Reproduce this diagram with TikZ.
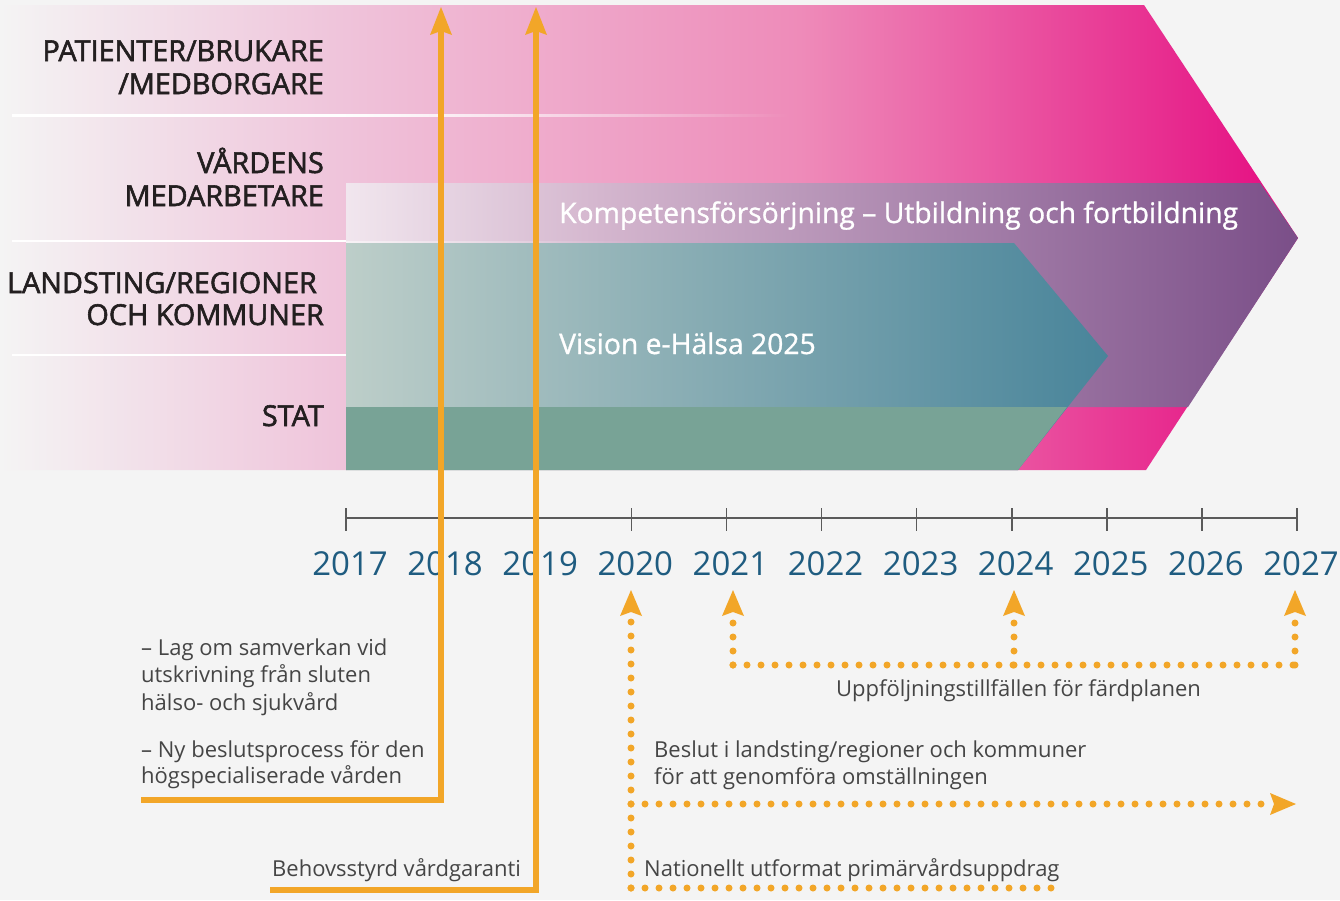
\documentclass[tikz,border=0pt]{standalone}
\usepackage{fontspec}
\setmainfont{Open Sans}
\newfontfamily\semib[FakeBold=2]{Open Sans}
\newfontfamily\medf[FakeBold=1]{Open Sans}
\usetikzlibrary{arrows.meta,fadings}
\definecolor{bgc}{HTML}{F4F4F4}
\definecolor{pkB}{HTML}{EFC3DA}
\definecolor{pkC}{HTML}{EE8BB9}
\definecolor{pkD}{HTML}{E50A80}
\definecolor{puA}{HTML}{F1E6EE}
\definecolor{puB}{HTML}{D4B6CE}
\definecolor{puC}{HTML}{7A4E88}
\definecolor{tlA}{HTML}{BDCEC9}
\definecolor{tlB}{HTML}{48849A}
\definecolor{grn}{HTML}{78A396}
\definecolor{orng}{HTML}{F2A628}
\definecolor{yr}{HTML}{1F5C80}
\definecolor{lbl}{HTML}{231F20}
\definecolor{txt}{HTML}{454545}
\definecolor{axisc}{HTML}{5A5A5A}
\tikzset{
  lane/.style={anchor=base east, inner sep=0pt, text=lbl, font=\semib\fontsize{28.8}{33}\selectfont},
  band/.style={anchor=base west, inner sep=0pt, text=white, font=\medf\fontsize{28.3}{30}\selectfont},
  yearlbl/.style={anchor=base, inner sep=0pt, text=yr, font=\fontsize{33}{40}\selectfont},
  note/.style={anchor=base west, inner sep=0pt, text=txt, font=\fontsize{22}{27}\selectfont},
  solidarrow/.style={draw=orng, line width=6pt, line join=miter, -{Stealth[length=28pt,width=22pt,inset=4pt,line width=0pt]}},
  dotline/.style={draw=orng, line width=7pt, line cap=round, dash pattern=on 0pt off 14pt},
  dotarrow/.style={dotline, -{Stealth[length=26pt,width=22pt,inset=4pt,line width=0pt]}},
}
\begin{document}
\begin{tikzpicture}[x=1pt,y=-1pt]
\fill[bgc] (0,0) rectangle (1340,900);
\useasboundingbox (0,0) rectangle (1340,900);

% big pink chevron
\begin{scope}
\clip (0,5) -- (1144,5) -- (1298,238) -- (1146,470) -- (0,470) -- cycle;
\shade[left color=bgc, right color=pkB] (0,0) rectangle (346.5,480);
\shade[left color=pkB, right color=pkC] (346,0) rectangle (800.5,480);
\shade[left color=pkC, right color=pkD] (800,0) rectangle (1300,480);
\end{scope}

% purple chevron
\begin{scope}
\clip (346,183) -- (1260,183) -- (1298,238) -- (1188,407) -- (346,407) -- cycle;
\shade[left color=puA, right color=puB] (346,180) rectangle (600.5,410);
\shade[left color=puB, right color=puC] (600,180) rectangle (1300,410);
\end{scope}

% teal chevron
\begin{scope}
\clip (346,243) -- (1014,243) -- (1108,356) -- (1018,470) -- (346,470) -- cycle;
\shade[left color=tlA, right color=tlB] (346,240) rectangle (1110,472);
\end{scope}

% green band
\fill[grn] (346,407) -- (1067,407) -- (1018,470) -- (346,470) -- cycle;

% white separators
\fill[white] (12,114) rectangle (346,116.5);
\fill[white, path fading=east] (346,114) rectangle (790,116.5);
\fill[white] (12,239.5) rectangle (346,242);
\fill[white, opacity=0.5, path fading=east] (346,240.5) rectangle (650,242.5);
\fill[white] (12,353.5) rectangle (346,356);

% lane labels
\node[lane] (l1a) at (324,61) {PATIENTER/BRUKARE};
\node[lane] (l1b) at (324,94) {/MEDBORGARE};
\node[lane] (l2a) at (324,173) {VÅRDENS};
\node[lane] (l2b) at (324,206) {MEDARBETARE};
\node[lane] (l3a) at (317,293) {LANDSTING/REGIONER};
\node[lane] (l3b) at (324,325) {OCH KOMMUNER};
\node[lane] (l4) at (324,426) {STAT};

% band labels
\node[band] (komp) at (559,223) {Kompetensförsörjning – Utbildning och fortbildning};
\node[band] (vis) at (559,354) {Vision e-Hälsa 2025};

% timeline
\coordinate (ax0) at (346,518);
\coordinate (ax1) at (1297,518);
\draw[axisc, line width=1.8pt] (ax0) -- (ax1);
\foreach \i [evaluate=\i as \xx using 346+95.1*\i, evaluate=\i as \yy using int(2017+\i)] in {0,...,10} {
  \draw[axisc, line width=1.6pt] (\xx,508) -- (\xx,531);
  \node[yearlbl] (y\yy) at (\xx+4,575) {\yy};
}

% solid orange arrows
\coordinate (a1s) at (141,800);
\coordinate (a1c) at (441,800);
\coordinate (a1t) at (441,7);
\coordinate (a2s) at (270,890);
\coordinate (a2c) at (536,890);
\coordinate (a2t) at (536,7);
\draw[solidarrow] (a1s) -- (a1c) -- (a1t);
\draw[solidarrow] (a2s) -- (a2c) -- (a2t);

% dotted orange arrows
\coordinate (d0b) at (631,888);
\coordinate (d0e) at (1065,888);
\coordinate (d0t) at (631,590);
\coordinate (dhs) at (631,804);
\coordinate (dht) at (1296,804);
\coordinate (fA) at (733,665);
\coordinate (fB) at (1014,665);
\coordinate (fC) at (1295,665);
\coordinate (tA) at (733,590);
\coordinate (tB) at (1014,590);
\coordinate (tC) at (1295,590);
\draw[dotline] (d0b) -- (d0e);
\draw[dotarrow] (d0b) -- (d0t);
\draw[dotarrow] (dhs) -- (dht);
\draw[dotline] (fA) -- (fC);
\draw[dotarrow] (fA) -- (tA);
\draw[dotarrow] (fB) -- (tB);
\draw[dotarrow] (fC) -- (tC);

% notes
\node[note] (n1) at (141,655) {– Lag om samverkan vid};
\node[note] (n2) at (141,682.5) {utskrivning från sluten};
\node[note] (n3) at (141,710) {hälso- och sjukvård};
\node[note] (n4) at (141,757) {– Ny beslutsprocess för den};
\node[note] (n5) at (141,783.5) {högspecialiserade vården};
\node[note] (n6) at (272,876) {Behovsstyrd vårdgaranti};
\node[note] (n7) at (836,696) {Uppföljningstillfällen för färdplanen};
\node[note] (n8) at (654,757) {Beslut i landsting/regioner och kommuner};
\node[note] (n9) at (654,784) {för att genomföra omställningen};
\node[note] (n10) at (644,876) {Nationellt utformat primärvårdsuppdrag};
\end{tikzpicture}
\end{document}
